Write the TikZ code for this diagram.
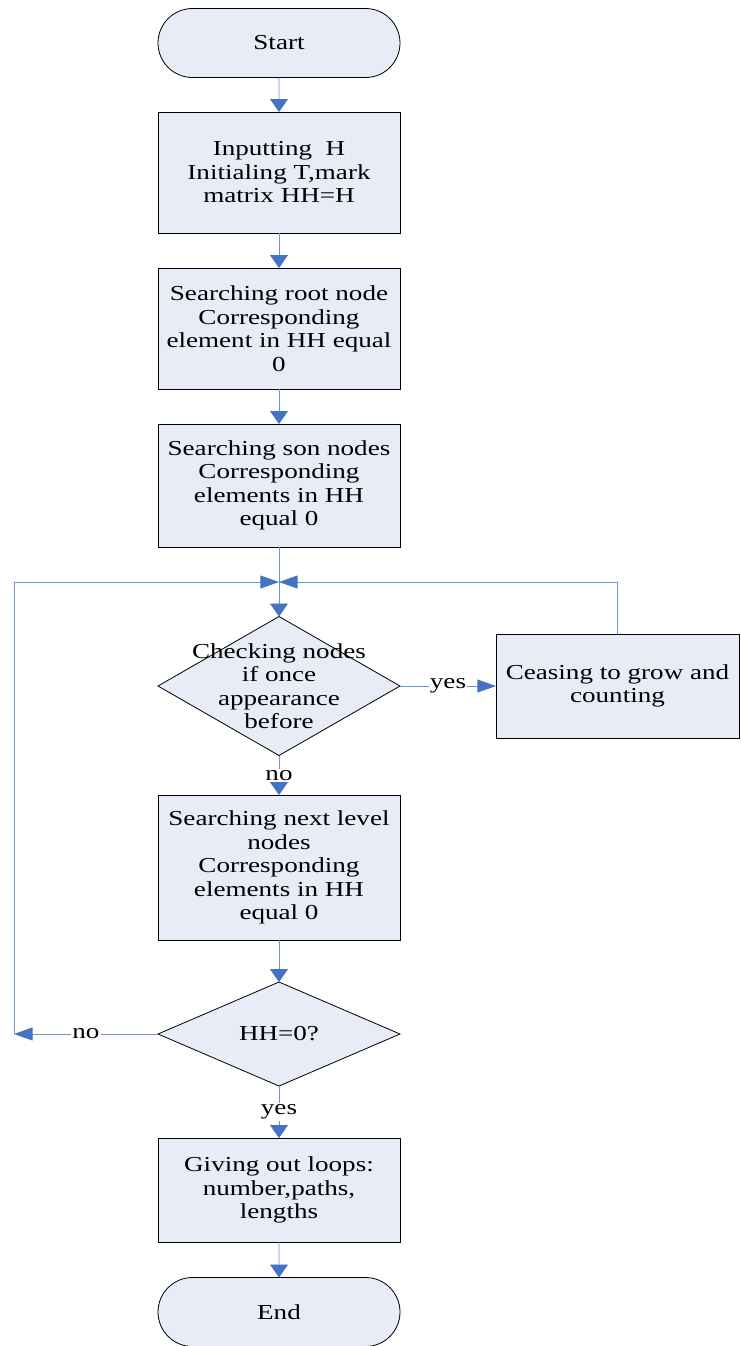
\documentclass[tikz,border=0pt]{standalone}
\usepackage{fontspec}
\setmainfont{Liberation Serif}[FakeStretch=1.27]
\usetikzlibrary{
  positioning,
  arrows.meta,
  shapes.geometric,
  shapes.misc
}
\definecolor{boxfill}{RGB}{232,236,247}
\definecolor{linkblue}{RGB}{110,145,210}
\definecolor{tipblue}{RGB}{68,114,196}

\tikzset{
  base/.style={draw=black, line width=0.6pt, fill=boxfill, inner sep=0pt,
    outer sep=0pt, align=center, font=\fontsize{16pt}{17.6pt}\selectfont},
  terminal/.style={base, rounded rectangle, minimum width=181.5pt, minimum height=51.75pt},
  process/.style={base, rectangle, minimum width=181.5pt},
  decision/.style={base, diamond, minimum width=181.5pt},
  txt/.style={align=center, inner sep=0pt, font=\fontsize{16pt}{17.6pt}\selectfont},
  link/.style={draw=linkblue, line width=0.7pt},
  vtip/.style={link, -{Triangle[length=9.75pt,width=13.5pt,color=tipblue]}},
  htip/.style={link, -{Triangle[length=14pt,width=9.75pt,color=tipblue]}},
  lbl/.style={fill=white, inner sep=1pt, font=\fontsize{16pt}{17.6pt}\selectfont}
}

\begin{document}
\begin{tikzpicture}[x=0.75pt, y=-0.75pt]
  \useasboundingbox (0,0) rectangle (741,1346);

  % Main column
  \node[terminal] (start) at (279,43) {Start};
  \node[process, minimum height=90.75pt] (input) at (279,172.5)
    {Inputting\ \ H\\Initialing T,mark\\matrix HH=H};
  \node[process, minimum height=90.75pt] (root) at (279,328.5)
    {Searching root node\\Corresponding\\element in HH equal\\0};
  \node[process, minimum height=92.25pt] (son) at (279,485.5)
    {Searching son nodes\\Corresponding\\elements in HH\\equal 0};
  \node[decision, minimum height=104.25pt] (check) at (279,686) {};
  \node[txt] (checktext) at (check.center)
    {Checking nodes\\if once\\appearance\\before};
  \node[process, minimum width=182.25pt, minimum height=78pt] (cease) at (617.5,686)
    {Ceasing to grow and\\counting};
  \node[process, minimum height=108.75pt] (next) at (279,867.5)
    {Searching next level\\nodes\\Corresponding\\elements in HH\\equal 0};
  \node[decision, minimum height=78pt] (hh) at (279,1034) {};
  \node[txt] (hhtext) at (hh.center) {HH=0?};
  \node[process, minimum height=78pt] (output) at (279,1190)
    {Giving out loops:\\number,paths,\\lengths};
  \node[terminal] (end) at (279,1312) {End};

  % Loop corners
  \coordinate (join) at (279,582);
  \coordinate (left) at (14,1034);

  % Connectors
  \draw[vtip] (start) -- (input);
  \draw[vtip] (input) -- (root);
  \draw[vtip] (root) -- (son);
  \draw[vtip] (son) -- (check);
  \draw[htip] (check) -- node[lbl] {yes} (cease);
  \draw[vtip] (check) -- node[lbl] {no} (next);
  \draw[vtip] (next) -- (hh);
  \draw[htip] (hh) -- node[lbl] {no} (left);
  \draw[htip] (left) |- (join);
  \draw[htip] (cease) |- (join);
  \draw[vtip] (hh) -- node[lbl] {yes} (output);
  \draw[vtip] (output) -- (end);
\end{tikzpicture}
\end{document}
